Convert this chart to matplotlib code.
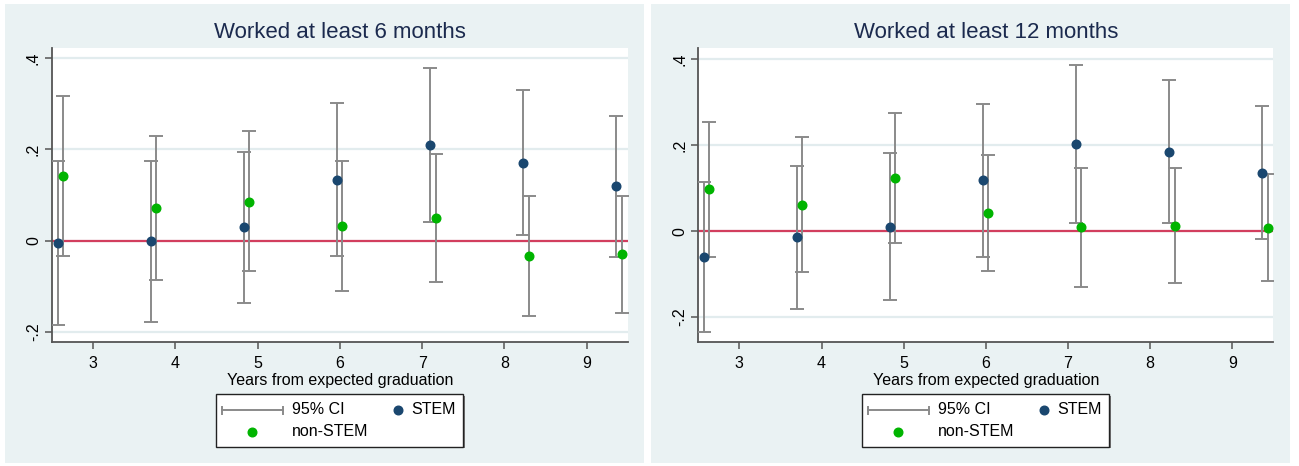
import matplotlib
matplotlib.use("Agg")
import matplotlib.pyplot as plt
from matplotlib.lines import Line2D
from matplotlib.patches import Rectangle
import numpy as np

plt.rcParams["font.family"] = ["Liberation Sans", "DejaVu Sans"]

# ---- data -------------------------------------------------------------
years_stem = [2.57, 3.70, 4.835, 5.965, 7.10, 8.23, 9.36]
years_nonstem = [2.635, 3.765, 4.90, 6.03, 7.165, 8.30, 9.43]
xticks = [3, 4, 5, 6, 7, 8, 9]
yticks = [-0.2, 0.0, 0.2, 0.4]
ytick_labels = ["-.2", "0", ".2", ".4"]

titles = ["Worked at least 6 months", "Worked at least 12 months"]

six_stem = [-0.005, -0.002, 0.029, 0.134, 0.210, 0.171, 0.119]
six_stem_lo = [-0.185, -0.179, -0.138, -0.034, 0.041, 0.012, -0.037]
six_stem_hi = [0.174, 0.175, 0.194, 0.303, 0.378, 0.330, 0.273]
six_non = [0.142, 0.071, 0.085, 0.032, 0.049, -0.033, -0.030]
six_non_lo = [-0.034, -0.086, -0.067, -0.110, -0.090, -0.165, -0.158]
six_non_hi = [0.317, 0.229, 0.240, 0.175, 0.189, 0.098, 0.097]

twelve_stem = [-0.060, -0.014, 0.010, 0.119, 0.202, 0.185, 0.136]
twelve_stem_lo = [-0.234, -0.181, -0.161, -0.059, 0.018, 0.018, -0.019]
twelve_stem_hi = [0.114, 0.152, 0.181, 0.296, 0.386, 0.351, 0.290]
twelve_non = [0.097, 0.061, 0.123, 0.043, 0.009, 0.012, 0.008]
twelve_non_lo = [-0.059, -0.096, -0.027, -0.092, -0.130, -0.120, -0.116]
twelve_non_hi = [0.253, 0.219, 0.274, 0.178, 0.147, 0.146, 0.133]

panels = [
    (six_stem, six_stem_lo, six_stem_hi, six_non, six_non_lo, six_non_hi),
    (twelve_stem, twelve_stem_lo, twelve_stem_hi, twelve_non, twelve_non_lo, twelve_non_hi),
]
ylims = [(-0.222, 0.422), (-0.257, 0.425)]

# ---- style ------------------------------------------------------------
BG = "#EAF2F3"
GRID = "#E2ECEE"
NAVY = "#1A476F"
GREEN = "#00B400"
CI_GRAY = "#8A8A8A"
REF = "#D23E5E"
AXIS = "#555555"
TITLE = "#1B2A4E"
MS = 6.2

W, H = 1299, 466
fig = plt.figure(figsize=(W / 100, H / 100), dpi=100)
fig.patch.set_facecolor("white")


def fx(px):
    return px / W


def fy(py):
    return 1 - py / H


# panel backgrounds
for left, right in [(5, 643.5), (651, 1290)]:
    fig.add_artist(Rectangle((fx(left), fy(463)), fx(right - left), (463 - 4) / H,
                             transform=fig.transFigure, facecolor=BG,
                             edgecolor="none", zorder=0))

axes_px = [(52, 627.7), (698.3, 1273.3)]
top_px, bottom_px = 48.3, 341.7

for i, (ax_l, ax_r) in enumerate(axes_px):
    stem, stem_lo, stem_hi, non, non_lo, non_hi = panels[i]
    ax = fig.add_axes([fx(ax_l), fy(bottom_px), fx(ax_r - ax_l), (bottom_px - top_px) / H])
    ax.set_facecolor("white")

    for yv in yticks:
        ax.axhline(yv, color=GRID, lw=1.6, zorder=1)
    ax.axhline(0, color=REF, lw=1.6, zorder=2)

    s = np.array(stem)
    n = np.array(non)
    ax.errorbar(years_stem, s, yerr=[s - np.array(stem_lo), np.array(stem_hi) - s],
                fmt="none", ecolor=CI_GRAY, elinewidth=1.4, capsize=5, capthick=1.4, zorder=3)
    ax.errorbar(years_nonstem, n, yerr=[n - np.array(non_lo), np.array(non_hi) - n],
                fmt="none", ecolor=CI_GRAY, elinewidth=1.4, capsize=5, capthick=1.4, zorder=3)
    ax.plot(years_stem, stem, "o", color=NAVY, ms=MS, mec=NAVY, zorder=4)
    ax.plot(years_nonstem, non, "o", color=GREEN, ms=MS, mec=GREEN, zorder=4)

    ax.set_xlim(2.5, 9.5)
    ax.set_ylim(*ylims[i])
    ax.set_xticks(xticks)
    ax.set_xticklabels([str(t) for t in xticks], fontsize=11.5)
    ax.set_yticks(yticks)
    ax.set_yticklabels(ytick_labels, fontsize=11.5, rotation=90, va="center")
    ax.tick_params(axis="both", length=5, width=1.1, color=AXIS)
    ax.tick_params(axis="x", pad=5)
    ax.tick_params(axis="y", pad=3)
    for side in ("top", "right"):
        ax.spines[side].set_visible(False)
    for side in ("left", "bottom"):
        ax.spines[side].set_color(AXIS)
        ax.spines[side].set_linewidth(1.3)
    ax.set_xlabel("Years from expected graduation", fontsize=11.5, labelpad=2)

    cx = (ax_l + ax_r) / 2
    fig.text(fx(cx), fy(33), titles[i], ha="center", va="center",
             fontsize=16, color=TITLE)

    # legend box
    bl, br, bt, bb = cx - 124, cx + 123.5, 394.3, 446.7
    fig.add_artist(Rectangle((fx(bl + 1.5), fy(bb + 1.5)), fx(br - bl), (bb - bt) / H,
                             transform=fig.transFigure, facecolor="#777777",
                             edgecolor="none", zorder=5))
    fig.add_artist(Rectangle((fx(bl), fy(bb)), fx(br - bl), (bb - bt) / H,
                             transform=fig.transFigure, facecolor="white",
                             edgecolor="#222222", lw=1.0, zorder=6))
    r1, r2 = 410, 432
    fig.add_artist(Line2D([fx(cx - 118), fx(cx - 57)], [fy(r1), fy(r1)],
                          transform=fig.transFigure, color=CI_GRAY, lw=1.4, zorder=7))
    for ex in (cx - 118, cx - 57):
        fig.add_artist(Line2D([fx(ex), fx(ex)], [fy(r1 - 3.5), fy(r1 + 3.5)],
                              transform=fig.transFigure, color=CI_GRAY, lw=1.4, zorder=7))
    fig.add_artist(Line2D([fx(cx + 58)], [fy(r1)], transform=fig.transFigure,
                          marker="o", ms=MS, color=NAVY, lw=0, zorder=7))
    fig.add_artist(Line2D([fx(cx - 88)], [fy(r2)], transform=fig.transFigure,
                          marker="o", ms=MS, color=GREEN, lw=0, zorder=7))
    fig.text(fx(cx - 48), fy(r1), "95% CI", ha="left", va="center", fontsize=11.5, zorder=8)
    fig.text(fx(cx + 71), fy(r1), "STEM", ha="left", va="center", fontsize=11.5, zorder=8)
    fig.text(fx(cx - 48), fy(r2), "non-STEM", ha="left", va="center", fontsize=11.5, zorder=8)

fig.savefig("out.png", dpi=100, facecolor=fig.get_facecolor())
